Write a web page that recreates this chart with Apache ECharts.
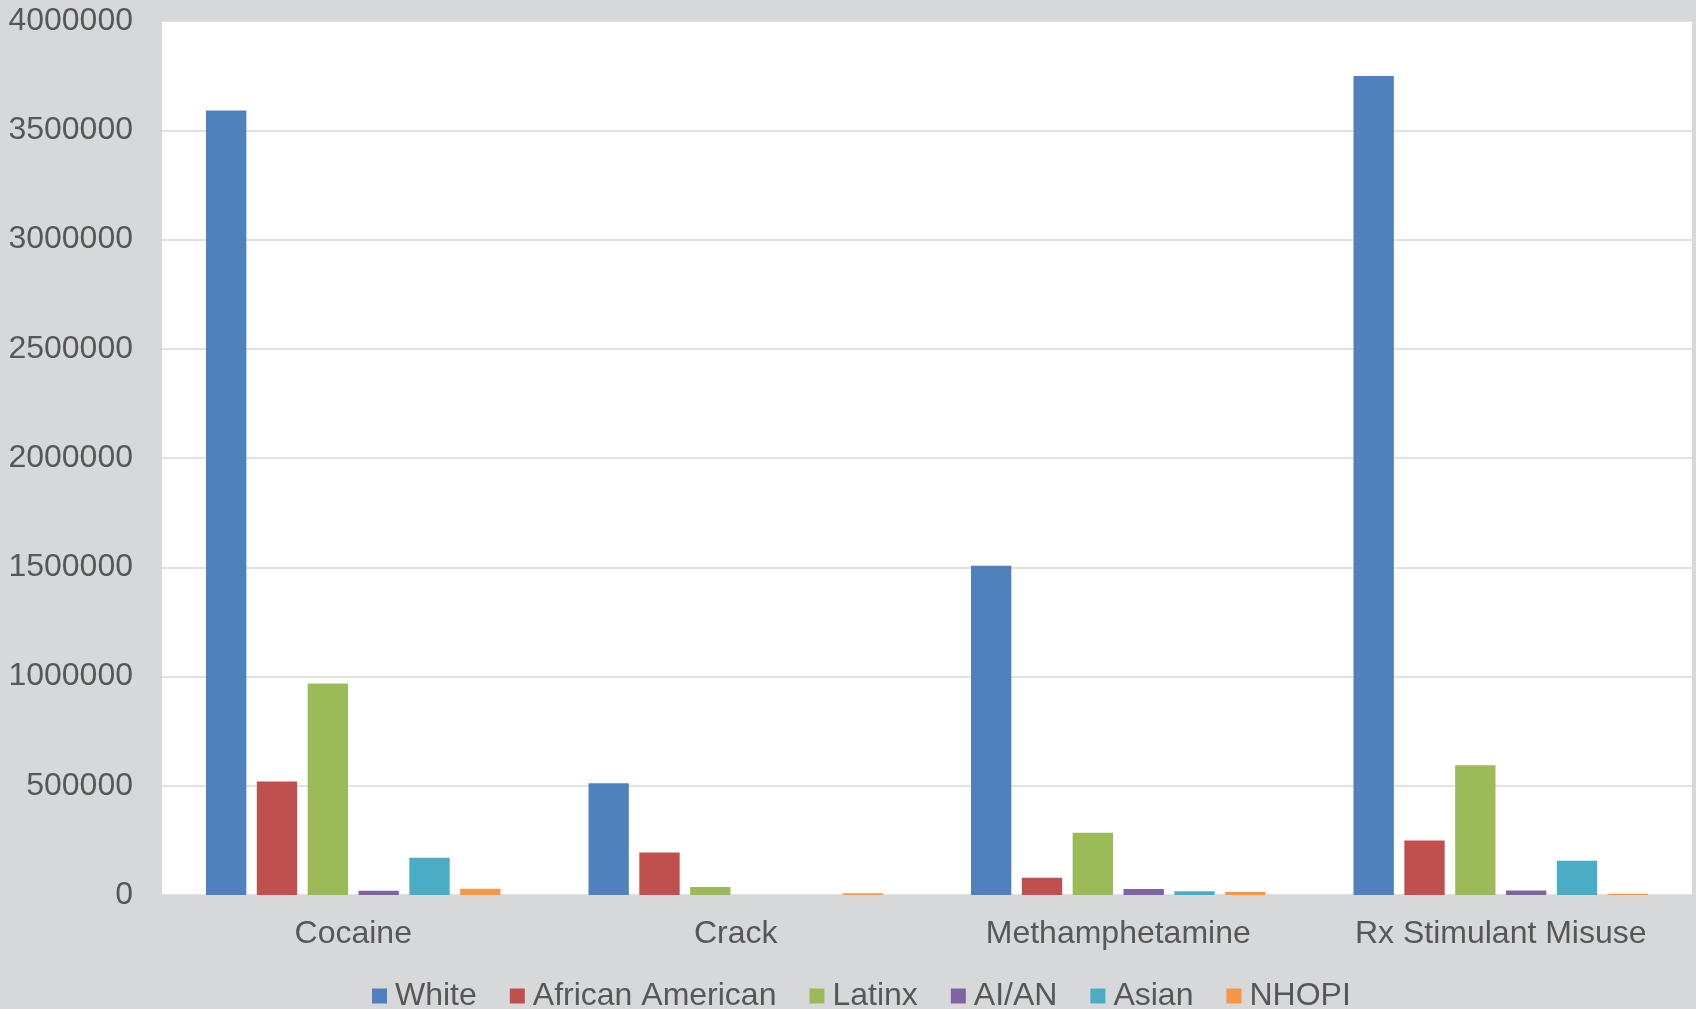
<!DOCTYPE html>
<html>
<head>
<meta charset="utf-8">
<script src="https://cdn.jsdelivr.net/npm/echarts@6/dist/echarts.min.js"></script>
<style>
  html, body { margin: 0; padding: 0; background: #d7d8da; }
  #chart { width: 1696px; height: 1009px; }
</style>
</head>
<body>
<div id="chart"></div>
<script>
// Stimulant use by substance and race/ethnicity
const categories = ['Cocaine', 'Crack', 'Methamphetamine', 'Rx Stimulant Misuse'];

const white           = [3590000, 511000, 1507000, 3748000];
const africanAmerican = [520000, 195000, 79000, 250000];
const latinx          = [968000, 37000, 285000, 594000];
const aian            = [19000, 0, 27000, 21000];
const asian           = [171000, 0, 17000, 157000];
const nhopi           = [29000, 8000, 14000, 6000];

const seriesNames = ['White', 'African American', 'Latinx', 'AI/AN', 'Asian', 'NHOPI'];
const seriesData = [white, africanAmerican, latinx, aian, asian, nhopi];
const colors = ['#4f81bd', '#c0504d', '#9bbb59', '#8064a2', '#4bacc6', '#f79646'];

const yTicks = { min: 0, max: 4000000, interval: 500000 };

const textColor = '#575757';
const fontFamily = 'Arial, "Liberation Sans", sans-serif';

const chart = echarts.init(document.getElementById('chart'), null, { renderer: 'canvas' });

chart.setOption({
  backgroundColor: '#d7d8da',
  animation: false,
  color: colors,
  textStyle: { fontFamily: fontFamily },
  grid: {
    left: 162, right: 4, top: 21, bottom: 114,
    containLabel: false,
    outerBoundsMode: 'none',
    show: true, backgroundColor: '#ffffff', borderWidth: 0
  },
  legend: {
    data: seriesNames,
    left: 367,
    top: 975,
    icon: 'rect',
    itemWidth: 15,
    itemHeight: 15,
    itemGap: 33,
    textStyle: {
      color: textColor, fontSize: 32, lineHeight: 32,
      fontFamily: fontFamily, padding: [0, 0, 0, 3]
    }
  },
  xAxis: {
    type: 'category',
    data: categories,
    axisLine: { show: false },
    axisTick: { show: false },
    axisLabel: { color: textColor, fontSize: 32, margin: 23, fontFamily: fontFamily }
  },
  yAxis: {
    type: 'value',
    min: yTicks.min,
    max: yTicks.max,
    interval: yTicks.interval,
    axisLine: { show: false },
    axisTick: { show: false },
    axisLabel: {
      color: textColor, fontSize: 32, margin: 29, fontFamily: fontFamily,
      formatter: v => String(v)
    },
    splitLine: { lineStyle: { color: '#d9d9d9', width: 1.5 } }
  },
  series: seriesNames.map((name, i) => ({
    name: name,
    type: 'bar',
    data: seriesData[i],
    barCategoryGap: '23%',
    barGap: '26%',
    itemStyle: { color: colors[i] }
  }))
});
</script>
</body>
</html>
